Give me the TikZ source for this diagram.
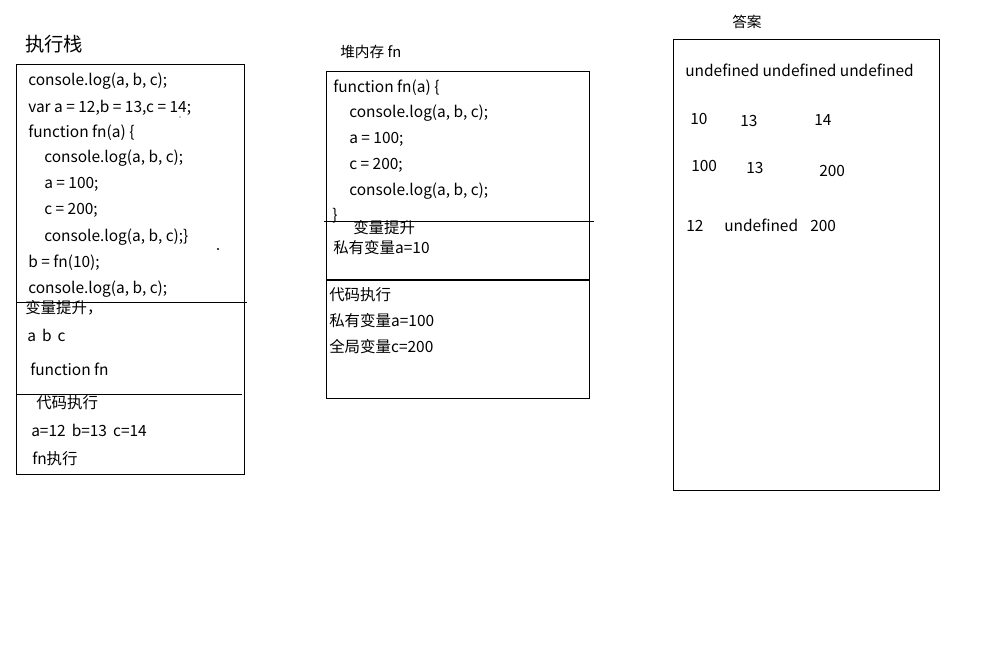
\documentclass[tikz,border=0pt]{standalone}
\usepackage{fontspec}
\setmainfont{Noto Sans CJK SC}
\usetikzlibrary{positioning}

\begin{document}
\begin{tikzpicture}[x=0.75pt,y=-0.75pt,font=\fontsize{11.6}{13}\selectfont,
  txt/.style={anchor=west,inner sep=0pt,yshift=-1.2pt},
  frame/.style={draw,line width=0.75pt},
  sep/.style={draw,line width=0.7pt}]

\useasboundingbox[fill=white] (0,0) rectangle (998,654);

% execution stack
\node[txt,font=\fontsize{14.5}{16}\selectfont] (stacktitle) at (25,43) {执行栈};
\draw[frame] (16,64) rectangle (244,474);
\node[txt] (s1) at (28,80) {console.log(a, b, c);};
\node[txt] (s2) at (28,106) {var a = 12,b = 13,c = 14;};
\node[txt] (s3) at (28,131) {function fn(a) \{};
\node[txt] (s4) at (44,157) {console.log(a, b, c);};
\node[txt] (s5) at (44,183) {a = 100;};
\node[txt] (s6) at (44,209) {c = 200;};
\node[txt] (s7) at (44,235) {console.log(a, b, c);\}};
\node[txt] (s8) at (28,261) {b = fn(10);};
\node[txt] (s9) at (28,287) {console.log(a, b, c);};
\fill (180,117) circle (0.6);
\fill (218,249) circle (1.2);
\node[txt] (hoist) at (25,306) {变量提升，};
\draw[sep] (16,302) -- (247,302);
\node[txt] (vars) at (27,334) {a\, b\, c};
\node[txt] (fndecl) at (30,368) {function fn};
\draw[sep] (16,394) -- (242,394);
\node[txt] (exec) at (36,401) {代码执行};
\node[txt] (assign) at (31,429) {a=12\, b=13\, c=14};
\node[txt] (fnrun) at (32,457) {fn执行};

% heap fn
\node[txt,font=\fontsize{11}{13}\selectfont] (heaptitle) at (340,50) {堆内存 fn};
\draw[frame] (326,71) rectangle (589,398);
\node[txt] (h1) at (333,86) {function fn(a) \{};
\node[txt] (h2) at (349,112) {console.log(a, b, c);};
\node[txt] (h3) at (349,138) {a = 100;};
\node[txt] (h4) at (349,164) {c = 200;};
\node[txt] (h5) at (349,190) {console.log(a, b, c);};
\node[txt] (h6) at (332,214) {\}};
\draw[sep] (324,221) -- (594,221);
\node[txt] (hhoist) at (353,226) {变量提升};
\node[txt] (ha) at (333,246) {私有变量a=10};
\draw[line width=1.6pt] (326,280) -- (589,280);
\node[txt] (hexec) at (329,293) {代码执行};
\node[txt] (hpa) at (329,319) {私有变量a=100};
\node[txt] (hgc) at (329,345) {全局变量c=200};

% answers
\node[txt,font=\fontsize{11}{13}\selectfont] (anstitle) at (732,20) {答案};
\draw[frame] (673,39) rectangle (939,490);
\node[txt] (a1) at (685,69) {undefined undefined undefined};
\node[txt] (a21) at (690,117) {10};
\node[txt] (a22) at (740,119) {13};
\node[txt] (a23) at (814,118) {14};
\node[txt] (a31) at (691,164) {100};
\node[txt] (a32) at (746,166) {13};
\node[txt] (a33) at (819,169) {200};
\node[txt] (a41) at (686,224) {12};
\node[txt] (a42) at (724,224) {undefined};
\node[txt] (a43) at (810,224) {200};

\end{tikzpicture}
\end{document}
